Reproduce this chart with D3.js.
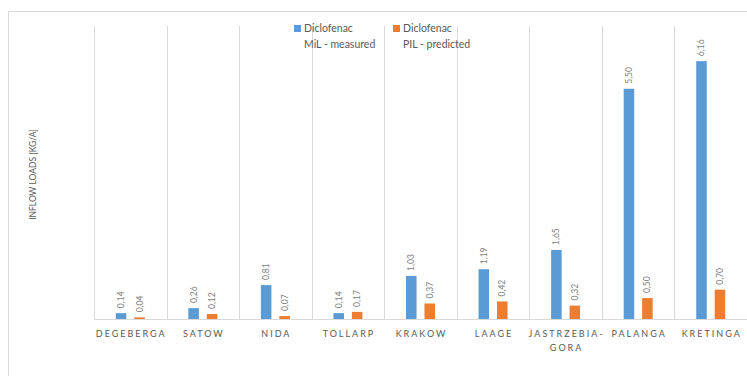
<!DOCTYPE html>
<html>
<head>
<meta charset="utf-8">
<script src="https://cdn.jsdelivr.net/npm/d3@7"></script>
<style>
  html, body { margin: 0; padding: 0; background: #fff; }
  svg { display: block; font-family: Lato, "Open Sans", sans-serif; }
</style>
</head>
<body>
<svg id="chart" width="747" height="376"></svg>
<script>
// Inflow loads of diclofenac per site, measured vs predicted (kg/a)
const sites = ["DEGEBERGA", "SATOW", "NIDA", "TOLLARP", "KRAKOW", "LAAGE", "JASTRZEBIA-GORA", "PALANGA", "KRETINGA"];
const measured = [0.14, 0.26, 0.81, 0.14, 1.03, 1.19, 1.65, 5.50, 6.16];
const predicted = [0.04, 0.12, 0.07, 0.17, 0.37, 0.42, 0.32, 0.50, 0.70];
const seriesNames = [["Diclofenac", "MiL - measured"], ["Diclofenac", "PIL - predicted"]];
const colors = ["#5B9BD5", "#ED7D31"];
const yMax = 7;

const svg = d3.select("#chart");
const W = 747, H = 376;
const plot = { left: 94, right: 747, top: 26, bottom: 319 };

// outer chart frame
svg.append("rect")
  .attr("x", 8.5).attr("y", 11.5)
  .attr("width", W).attr("height", H)
  .attr("fill", "none").attr("stroke", "#d9d9d9");

const x = d3.scaleBand().domain(sites).range([plot.left, plot.right]).padding(0);
const y = d3.scaleLinear().domain([0, yMax]).range([plot.bottom, plot.top]);

// category separators
const bounds = sites.map(s => x(s)).concat([x(sites[sites.length - 1]) + x.bandwidth()]);
svg.append("g").selectAll("line").data(bounds).join("line")
  .attr("x1", d => Math.round(d) + 0.5).attr("x2", d => Math.round(d) + 0.5)
  .attr("y1", plot.top).attr("y2", plot.bottom)
  .attr("stroke", "#d9d9d9").attr("stroke-width", 1);

// baseline
svg.append("line")
  .attr("x1", plot.left).attr("x2", plot.right)
  .attr("y1", y(0) + 0.5).attr("y2", y(0) + 0.5)
  .attr("stroke", "#d9d9d9");

// bars within each band
const inner = d3.scaleBand().domain([0, 1]).range([0, x.bandwidth()]).paddingInner(0.43).paddingOuter(1.18);
const series = [measured, predicted];

series.forEach((vals, si) => {
  const g = svg.append("g");
  g.selectAll("rect").data(vals).join("rect")
    .attr("x", (d, i) => x(sites[i]) + inner(si))
    .attr("width", inner.bandwidth())
    .attr("y", d => y(d))
    .attr("height", d => y(0) - y(d))
    .attr("fill", colors[si]);
  g.selectAll("text").data(vals).join("text")
    .attr("transform", (d, i) => {
      const cx = x(sites[i]) + inner(si) + inner.bandwidth() / 2 + 3;
      return `translate(${cx},${y(d) - 5}) rotate(-90)`;
    })
    .attr("text-anchor", "start")
    .attr("font-size", 8.5)
    .attr("fill", "#7f7f7f")
    .text(d => d3.format(".2f")(d).replace(".", ","));
});

// category labels
const catG = svg.append("g");
sites.forEach(s => {
  const cx = x(s) + x.bandwidth() / 2;
  const parts = s === "JASTRZEBIA-GORA" ? ["JASTRZEBIA-", "GORA"] : [s];
  const t = catG.append("text")
    .attr("x", cx).attr("y", 337)
    .attr("text-anchor", "middle")
    .attr("font-size", 9)
    .attr("letter-spacing", 2)
    .attr("fill", "#595959");
  parts.forEach((p, k) => {
    t.append("tspan").attr("x", cx + 1).attr("dy", k === 0 ? 0 : 14).text(p);
  });
});

// y axis title
svg.append("text")
  .attr("transform", `translate(36,${(plot.top + plot.bottom) / 2 + 2}) rotate(-90)`)
  .attr("text-anchor", "middle")
  .attr("font-size", 8.5)
  .attr("fill", "#595959")
  .text("INFLOW LOADS [KG/A]");

// legend
const legendX = [294, 393];
seriesNames.forEach((lines, i) => {
  const lg = svg.append("g").attr("transform", `translate(${legendX[i]},0)`);
  lg.append("rect").attr("x", 0).attr("y", 25).attr("width", 7).attr("height", 7).attr("fill", colors[i]);
  lg.append("text").attr("x", 10).attr("y", 32).attr("font-size", 10.5).attr("fill", "#595959").text(lines[0]);
  lg.append("text").attr("x", 10).attr("y", 48).attr("font-size", 10.5).attr("fill", "#595959").text(lines[1]);
});
</script>
</body>
</html>
